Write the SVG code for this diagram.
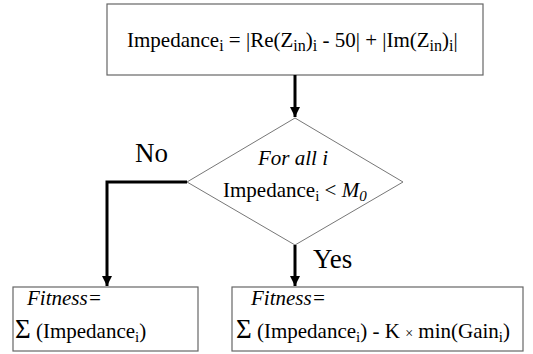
<svg xmlns="http://www.w3.org/2000/svg" width="533" height="354" viewBox="0 0 533 354">
<style>
.box{fill:#fff;stroke:#666;stroke-width:1.2}
.t{font-family:'Liberation Serif','Times New Roman',serif;font-size:21px;fill:#000}
.it{font-style:italic}
.big{font-size:27px}
.sig{font-size:27px}
.conn{fill:none;stroke:#000;stroke-width:3}
</style>
<defs>
<marker id="ah" viewBox="0 0 10 10" refX="10" refY="5" markerWidth="3.4" markerHeight="3.4" orient="auto" markerUnits="strokeWidth">
<path d="M0,0 L10,5 L0,10 z" fill="#000"/>
</marker>
</defs>
<rect width="533" height="354" fill="#fff"/>
<g id="top">
<rect class="box" x="107" y="4" width="376" height="71"/>
<text class="t" x="127" y="47" font-size="22">Impedance<tspan font-size="16" dy="4">i</tspan><tspan dy="-4"> = |Re(Z</tspan><tspan font-size="16" dy="4">in</tspan><tspan dy="-4">)</tspan><tspan font-size="16" dy="4">i</tspan><tspan dy="-4"> - 50| + |Im(Z</tspan><tspan font-size="16" dy="4">in</tspan><tspan dy="-4">)</tspan><tspan font-size="16" dy="4">i</tspan><tspan dy="-4">|</tspan></text>
</g>
<g id="decision">
<polygon points="295,118 403,182 295,245 187,182" fill="#fff" stroke="#777" stroke-width="1"/>
<text class="t it" x="293" y="165" text-anchor="middle">For all i</text>
<text class="t" x="223" y="197">Impedance<tspan font-size="15" dy="4">i</tspan><tspan dy="-4"> &lt; </tspan><tspan class="it">M</tspan><tspan class="it" font-size="15" dy="4">0</tspan></text>
</g>
<g id="left">
<rect class="box" x="13" y="287" width="185" height="64"/>
<text class="t it" x="27" y="305">Fitness=</text>
<text class="t" x="15" y="338"><tspan class="sig">Σ</tspan> (Impedance<tspan font-size="15" dy="4">i</tspan><tspan dy="-4">)</tspan></text>
</g>
<g id="right">
<rect class="box" x="232" y="287" width="291" height="64"/>
<text class="t it" x="251" y="305">Fitness=</text>
<text class="t" x="236" y="338"><tspan class="sig">Σ</tspan> (Impedance<tspan font-size="15" dy="4">i</tspan><tspan dy="-4">)  - K </tspan><tspan font-size="14">×</tspan> min(Gain<tspan font-size="15" dy="4">i</tspan><tspan dy="-4">)</tspan></text>
</g>
<g id="connectors">
<path class="conn" d="M295,75 V117" marker-end="url(#ah)"/>
<path class="conn" d="M295,245 V286" marker-end="url(#ah)"/>
<path class="conn" d="M187,182 H107 V286" marker-end="url(#ah)"/>
<text class="t big" x="135" y="162">No</text>
<text class="t big" x="313" y="268">Yes</text>
</g>
</svg>
